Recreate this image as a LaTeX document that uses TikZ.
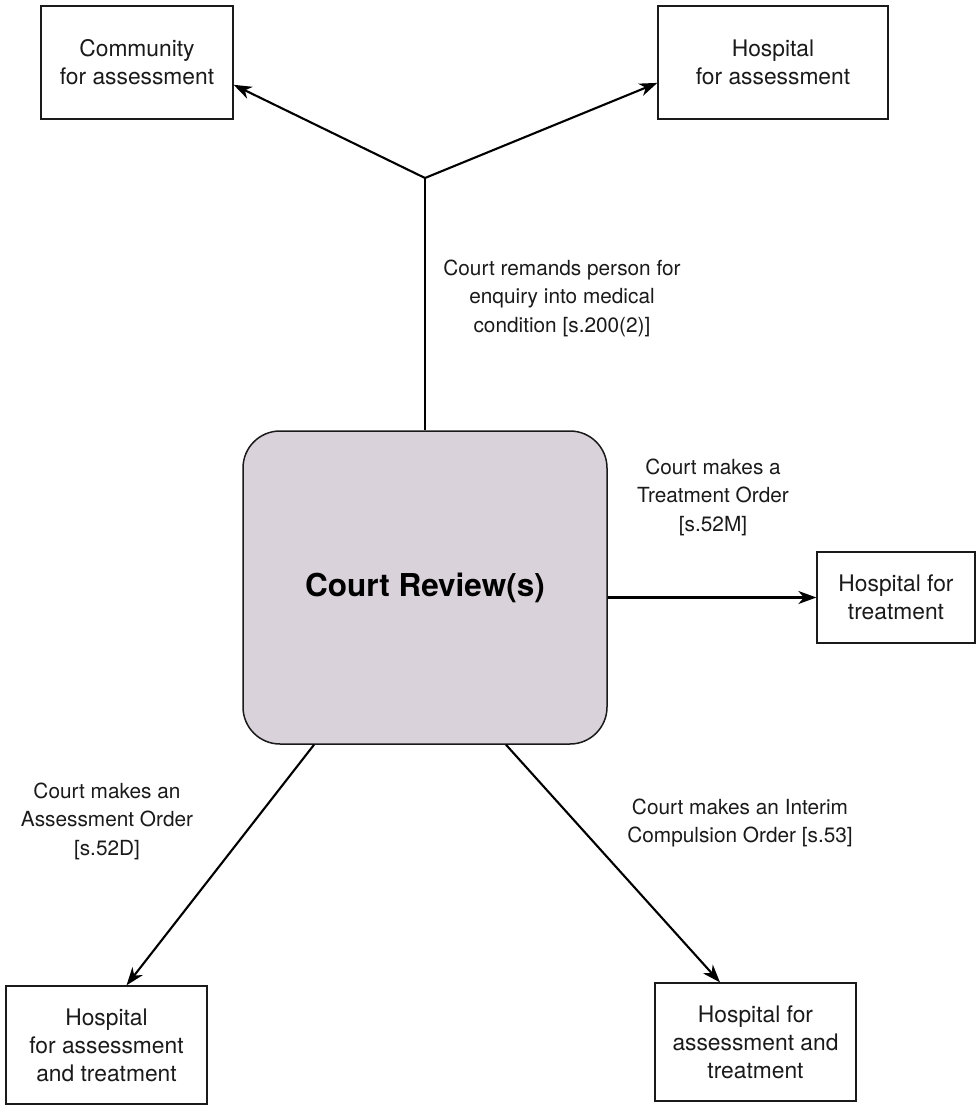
\documentclass[tikz,border=0pt]{standalone}
\usepackage{fontspec}
\setmainfont{TeX Gyre Heros}
\usetikzlibrary{arrows.meta}
\definecolor{reviewfill}{HTML}{DAD2DA}
\definecolor{ink}{HTML}{1A1A1A}
\begin{document}
\begin{tikzpicture}[x=1pt,y=-1pt,
  place/.style={draw=ink, line width=1.3pt, align=center, inner sep=0pt,
    font=\fontsize{22.8}{28}\selectfont, text=ink},
  note/.style={align=center, inner sep=0pt,
    font=\fontsize{20.8}{28.5}\selectfont, text=ink},
  hub/.style={draw=ink, line width=1.5pt, fill=reviewfill, rounded corners=37pt,
    minimum width=364pt, minimum height=313pt, inner sep=0pt,
    font=\fontsize{31.5}{36}\selectfont\bfseries, text=black},
  flow/.style={line width=2.1pt, draw=black,
    -{Stealth[length=18pt,width=13pt,inset=5.5pt]}},
  trunk/.style={line width=2.1pt, draw=black},
]
\useasboundingbox (0,0) rectangle (977,1113);

% destinations
\node[place, minimum width=192pt, minimum height=113pt] (comm) at (137,62.5)
  {Community\\for assessment};
\node[place, minimum width=230pt, minimum height=113pt] (hosp) at (773,62.5)
  {Hospital\\for assessment};
\node[place, minimum width=158pt, minimum height=91pt] (treat) at (896,597.5)
  {Hospital for\\treatment};
\node[place, minimum width=201pt, minimum height=118pt] (bl) at (106.5,1045)
  {Hospital\\for assessment\\and treatment};
\node[place, minimum width=201pt, minimum height=118pt] (br) at (755.5,1042)
  {Hospital for\\assessment and\\treatment};

% the court
\node[hub] (review) at (425,587.5) {Court Review(s)};

% branch point of the remand
\coordinate (J) at (425,178);

% orders
\node[note] (remand) at (562,298)
  {Court remands person for\\enquiry into medical\\condition [s.200(2)]};
\node[note] (treatorder) at (713,497)
  {Court makes a\\Treatment Order\\{}[s.52M]};
\node[note] (assessorder) at (107,821)
  {Court makes an\\Assessment Order\\{}[s.52D]};
\node[note] (interim) at (740,823)
  {Court makes an Interim\\Compulsion Order [s.53]};

% connectors
\draw[trunk] (review.north) -- (J);
\draw[flow] (J) -- (comm.-13.8);
\draw[flow] (J) -- (hosp.190);
\draw[flow] (review.east |- treat.west) -- (treat.west);
\draw[flow] ([xshift=-111pt]review.south) -- ([xshift=20pt]bl.north);
\draw[flow] ([xshift=81pt]review.south) -- ([xshift=-35.5pt]br.north);
\end{tikzpicture}
\end{document}
